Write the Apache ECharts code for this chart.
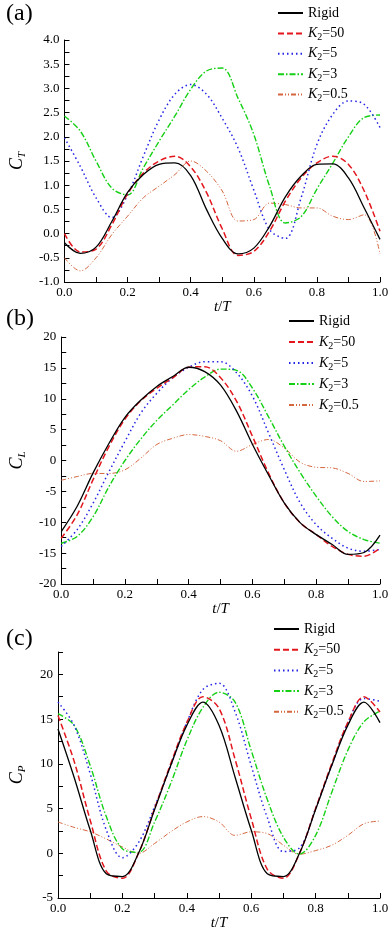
<!DOCTYPE html>
<html>
<head>
<meta charset="utf-8">
<script src="https://cdn.jsdelivr.net/npm/echarts@6.0.0/dist/echarts.min.js"></script>
<style>
  html, body { margin: 0; padding: 0; background: #fff; }
  #main { width: 392px; height: 932px; }
</style>
</head>
<body>
<div id="main"></div>
<script>
// t/T sample positions
var T = [0, 0.05, 0.1, 0.15, 0.2, 0.25, 0.3, 0.35, 0.4, 0.45, 0.5,
         0.55, 0.6, 0.65, 0.7, 0.75, 0.8, 0.85, 0.9, 0.95, 1.0];

var NAMES = ['Rigid', 'K2=50', 'K2=5', 'K2=3', 'K2=0.5'];
var PANELS = ['(a)', '(b)', '(c)'];

// (a) C_T
var rigidA = [-0.19, -0.41, -0.28, 0.25, 0.85, 1.22, 1.43, 1.46, 1.2, 0.5, -0.1, -0.42, -0.3, 0.15, 0.76, 1.19, 1.43, 1.44, 1.15, 0.53, -0.12];
var k50A   = [0.0, -0.38, -0.32, 0.18, 0.82, 1.25, 1.5, 1.6, 1.38, 0.85, 0.1, -0.45, -0.37, 0.05, 0.67, 1.15, 1.46, 1.6, 1.43, 0.88, 0.05];
var k5A    = [1.98, 1.39, 0.74, 0.33, 0.8, 1.6, 2.35, 2.88, 3.08, 2.88, 2.38, 1.77, 0.9, 0.08, -0.1, 0.74, 1.84, 2.46, 2.74, 2.67, 2.19];
var k3A    = [2.43, 2.12, 1.5, 0.94, 0.8, 1.36, 1.91, 2.43, 2.98, 3.36, 3.42, 2.8, 2.05, 0.98, 0.22, 0.35, 0.92, 1.45, 2.0, 2.4, 2.45];
var k05A   = [-0.5, -0.77, -0.5, -0.02, 0.36, 0.74, 0.98, 1.22, 1.5, 1.29, 0.88, 0.26, 0.29, 0.63, 0.6, 0.53, 0.53, 0.36, 0.29, 0.39, -0.42];

// (b) C_L
var rigidB = [-11.5, -7.4, -2.0, 2.8, 7.0, 9.8, 12.0, 13.6, 15.1, 14.4, 12.2, 8.0, 2.6, -2.3, -6.9, -10.1, -12.0, -13.6, -15.2, -14.9, -12.1];
var k50B   = [-12.6, -8.8, -3.1, 2.3, 6.7, 9.7, 11.7, 13.4, 15.1, 15.2, 13.4, 9.6, 3.9, -2.0, -6.9, -10.1, -12.0, -13.9, -15.2, -15.5, -14.2];
var k5B    = [-13.9, -11.2, -6.9, -1.8, 3.1, 7.7, 10.9, 13.4, 15.1, 16.0, 16.0, 14.2, 10.4, 4.5, -1.5, -6.9, -10.4, -12.6, -14.2, -14.7, -14.4];
var k3B    = [-13.4, -12.3, -9.1, -4.2, 0.0, 3.5, 6.5, 9.0, 11.5, 13.5, 14.8, 14.6, 11.7, 7.1, 2.3, -2.0, -5.8, -9.1, -11.5, -12.8, -13.4];
var k05B   = [-3.2, -2.6, -2.1, -2.1, -1.5, 0.4, 2.6, 3.6, 4.2, 3.9, 3.2, 1.5, 2.6, 3.4, 2.0, -0.3, -1.1, -1.2, -2.1, -3.4, -3.3];

// (c) C_P
var rigidC = [13.9, 8.5, 2.6, -2.3, -2.6, 0.0, 4.9, 9.8, 14.3, 16.9, 14.3, 8.5, 2.6, -2.3, -2.6, 0.0, 4.9, 9.8, 14.3, 16.9, 14.6];
var k50C   = [15.4, 10.3, 3.7, -2.0, -2.8, 0.0, 5.0, 10.0, 14.6, 17.5, 16.2, 10.5, 3.9, -1.8, -2.8, 0.0, 5.0, 10.0, 14.6, 17.5, 15.8];
var k5C    = [16.9, 14.3, 8.9, 2.6, -0.5, 1.2, 5.2, 9.8, 14.6, 18.3, 19.0, 15.8, 9.8, 4.0, 0.2, 0.6, 5.0, 9.8, 14.6, 17.3, 17.0];
var k3C    = [15.6, 14.3, 9.8, 4.1, 0.5, 0.1, 3.5, 7.8, 12.6, 16.3, 18.0, 16.9, 11.5, 6.0, 1.8, -0.1, 2.0, 6.8, 11.5, 14.7, 15.9];
var k05C   = [3.5, 2.9, 2.4, 1.6, 0.7, 0.0, 1.1, 2.4, 3.5, 4.1, 3.5, 2.0, 2.4, 2.2, 0.9, -0.1, 0.3, 0.9, 2.0, 3.3, 3.6];

var FONT = 'Liberation Serif';

var styles = [
  { color: '#000000', width: 1.3, type: 'solid' },
  { color: '#e3161d', width: 1.5, type: [6, 3] },
  { color: '#2424e6', width: 1.5, type: [1.5, 3] },
  { color: '#16d016', width: 1.4, type: [6, 2, 1.5, 2] },
  { color: '#d5673f', width: 1, type: [5, 2, 1, 2, 1, 2] }
];

var panelData = [
  [rigidA, k50A, k5A, k3A, k05A],
  [rigidB, k50B, k5B, k3B, k05B],
  [rigidC, k50C, k5C, k3C, k05C]
];

var grids = [
  { left: 55, right: 12, top: 40, height: 242 },
  { left: 49, right: 12, top: 337, height: 247 },
  { left: 51, right: 12, top: 652, height: 246 }
];

var yRanges = [
  { min: -1, max: 4, interval: 0.5, sub: 'T', fmt: function (v) { return v.toFixed(1); } },
  { min: -20, max: 20, interval: 5, sub: 'L', fmt: function (v) { return v; } },
  { min: -5, max: 22.5, interval: 5, sub: 'P', fmt: function (v) { return v; } }
];

var legendPos = [
  { left: 277, top: 4, gap: 2.4 },
  { left: 288, top: 312, gap: 3 },
  { left: 273, top: 620, gap: 2.7 }
];

var labelTops = [2, 307, 627];

var xAxes = [], yAxes = [], series = [], legends = [], titles = [];

for (var p = 0; p < 3; p++) {
  xAxes.push({
    type: 'value', gridIndex: p, min: 0, max: 1, interval: 0.2,
    name: '{i|t}/{i|T}', nameLocation: 'middle', nameGap: 15,
    nameTextStyle: {
      fontFamily: FONT, fontSize: 15, color: '#000',
      rich: { i: { fontFamily: FONT, fontSize: 15, fontStyle: 'italic', color: '#000' } }
    },
    axisLine: { onZero: false, lineStyle: { color: '#000', width: 1 } },
    axisTick: { inside: true, length: 5, lineStyle: { color: '#000' } },
    minorTick: { show: true, splitNumber: 2, length: 5, lineStyle: { color: '#000' } },
    splitLine: { show: false },
    axisLabel: {
      fontFamily: FONT, fontSize: 13, color: '#000', margin: 4,
      formatter: function (v) { return v.toFixed(1); }
    }
  });
  var yr = yRanges[p];
  yAxes.push({
    type: 'value', gridIndex: p, min: yr.min, max: yr.max, interval: yr.interval,
    name: '{c|C}{s|' + yr.sub + '}', nameLocation: 'middle', nameGap: 30,
    nameTextStyle: {
      fontFamily: FONT, color: '#000',
      rich: {
        c: { fontFamily: FONT, fontSize: 18, fontStyle: 'italic', color: '#000', lineHeight: 22, verticalAlign: 'middle' },
        s: { fontFamily: FONT, fontSize: 11, fontStyle: 'italic', color: '#000', lineHeight: 11, verticalAlign: 'bottom' }
      }
    },
    axisLine: { show: true, onZero: false, lineStyle: { color: '#000', width: 1 } },
    axisTick: { show: true, inside: true, length: 5, lineStyle: { color: '#000' } },
    minorTick: { show: true, splitNumber: 2, length: 5, lineStyle: { color: '#000' } },
    splitLine: { show: false },
    axisLabel: {
      fontFamily: FONT, fontSize: 13, color: '#000', margin: 5,
      showMaxLabel: p !== 2,
      formatter: yr.fmt
    }
  });
  for (var s = 0; s < NAMES.length; s++) {
    var vals = panelData[p][s];
    series.push({
      type: 'line', name: NAMES[s], xAxisIndex: p, yAxisIndex: p,
      data: T.map(function (t, i) { return [t, vals[i]]; }),
      smooth: 0.35, symbol: 'none', showSymbol: false,
      lineStyle: styles[s], itemStyle: { color: styles[s].color },
      z: 10 - s
    });
  }
  var lp = legendPos[p];
  legends.push({
    data: NAMES, orient: 'vertical', left: lp.left, top: lp.top,
    itemWidth: 25, itemHeight: 14, itemGap: lp.gap, padding: 0,
    selectedMode: false,
    itemStyle: { opacity: 0 },
    formatter: function (n) {
      return n.indexOf('K2') === 0 ? '{k|K}{s|2}' + n.slice(2) : n;
    },
    textStyle: {
      fontFamily: FONT, fontSize: 14, color: '#000', lineHeight: 18,
      rich: {
        k: { fontFamily: FONT, fontSize: 14, fontStyle: 'italic', color: '#000', lineHeight: 18, verticalAlign: 'middle' },
        s: { fontFamily: FONT, fontSize: 10, color: '#000', lineHeight: 10, verticalAlign: 'bottom' }
      }
    }
  });
  titles.push({
    text: PANELS[p], left: 6, top: labelTops[p], padding: 0,
    textStyle: { fontFamily: FONT, fontSize: 24, fontWeight: 'normal', color: '#000' }
  });
}

var chart = echarts.init(document.getElementById('main'), null, { renderer: 'canvas' });
chart.setOption({
  animation: false,
  backgroundColor: '#fff',
  title: titles,
  legend: legends,
  grid: grids,
  xAxis: xAxes,
  yAxis: yAxes,
  series: series
});
</script>
</body>
</html>
